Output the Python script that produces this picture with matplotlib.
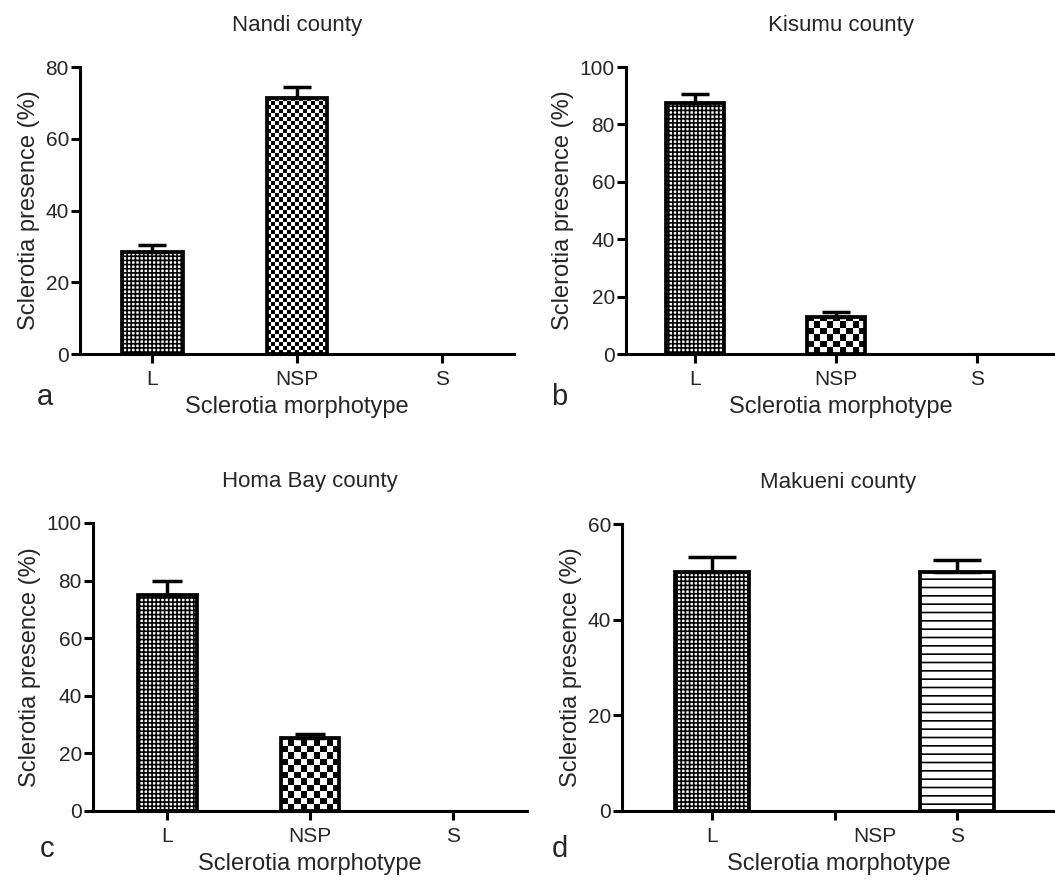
import numpy as np
import matplotlib
matplotlib.use("Agg")
import matplotlib.pyplot as plt
import matplotlib.transforms as mtransforms

# ---------------- data ----------------
categories = ["L", "NSP", "S"]
titles = ["Nandi county", "Kisumu county", "Homa Bay county", "Makueni county"]
panel_letters = ["a", "b", "c", "d"]

nandi_values = [28.5, 71.4, 0.0]
nandi_errors = [2.0, 2.9, 0.0]
kisumu_values = [87.5, 12.8, 0.0]
kisumu_errors = [3.0, 1.7, 0.0]
homabay_values = [75.0, 25.2, 0.0]
homabay_errors = [4.7, 1.7, 0.0]
makueni_values = [50.0, 0.0, 50.0]
makueni_errors = [3.1, 0.0, 2.4]

y_max = [80, 100, 100, 60]
y_ticks = [[0, 20, 40, 60, 80],
           [0, 20, 40, 60, 80, 100],
           [0, 20, 40, 60, 80, 100],
           [0, 20, 40, 60]]

values = [nandi_values, kisumu_values, homabay_values, makueni_values]
errors = [nandi_errors, kisumu_errors, homabay_errors, makueni_errors]

# ---------------- style ----------------
plt.rcParams['font.family'] = ['Liberation Sans', 'DejaVu Sans']
plt.rcParams['hatch.linewidth'] = 1.2
TXT = '#262626'

W, H = 1055, 881
fig = plt.figure(figsize=(W / 100, H / 100), dpi=100)

# axes boxes in pixels: left, right, top, bottom
boxes = [(80, 514, 67, 354), (626, 1055, 67, 354),
         (93, 527, 523, 811), (622, 1055, 524, 811)]
xlims = [(-0.5, 2.5), (-0.49, 2.55), (-0.52, 2.52), (-0.735, 2.8)]
bar_widths = [0.42, 0.41, 0.41, 0.6]
capsizes = [10, 10, 11, 17]
checker_px = [4.0, 6.5, 6.5, 6.0]
letter_pos = [(45, 405), (559, 405), (47, 857), (560, 857)]

hatches = {"L": "++++", "S": "--"}

for i in range(4):
    l, r, t, b = boxes[i]
    ax = fig.add_axes([l / W, 1 - b / H, (r - l) / W, (b - t) / H])
    x = np.arange(len(categories))
    vals = np.array(values[i])
    errs = np.array(errors[i])
    ax.set_xlim(*xlims[i])
    ax.set_ylim(0, y_max[i])

    for j, cat in enumerate(categories):
        if vals[j] <= 0:
            continue
        if cat == "NSP":
            bar = ax.bar(x[j], vals[j], width=bar_widths[i], facecolor='none',
                         edgecolor='black', linewidth=2.7, zorder=3)[0]
            # checkerboard texture clipped to bar
            x0, w, h = bar.get_x(), bar.get_width(), bar.get_height()
            p0 = ax.transData.transform((x0, 0))
            p1 = ax.transData.transform((x0 + w, h))
            wpx, hpx = p1[0] - p0[0], p1[1] - p0[1]
            c = checker_px[i]
            nx, ny = int(np.ceil(wpx / c)), int(np.ceil(hpx / c))
            cx, cy = w / wpx * c, h / hpx * c
            board = (np.indices((ny, nx)).sum(axis=0) % 2).astype(float)
            im = ax.imshow(board, cmap='gray_r', vmin=0, vmax=1,
                           extent=(x0, x0 + nx * cx, 0, ny * cy), origin='lower',
                           aspect='auto', interpolation='nearest', zorder=2)
            im.set_clip_path(bar)
        else:
            ax.bar(x[j], vals[j], width=bar_widths[i], facecolor='white',
                   edgecolor='black', linewidth=2.7, hatch=hatches[cat], zorder=3)

    nz = vals > 0
    ax.errorbar(x[nz], vals[nz], yerr=[np.zeros(nz.sum()), errs[nz]], fmt='none',
                ecolor='black', elinewidth=2.5, capsize=capsizes[i], capthick=2.5,
                zorder=4)

    ax.set_xlim(*xlims[i])
    ax.set_ylim(0, y_max[i])
    ax.set_yticks(y_ticks[i])
    ax.set_xticks(x)
    ax.set_xticklabels(categories)

    for s in ['top', 'right']:
        ax.spines[s].set_visible(False)
    for s in ['left', 'bottom']:
        ax.spines[s].set_linewidth(2.2)
        ax.spines[s].set_zorder(5)
    ax.tick_params(axis='both', direction='out', length=6.5, width=2.2,
                   labelsize=15, colors='black', labelcolor=TXT)
    ax.tick_params(axis='y', pad=1.5)
    ax.tick_params(axis='x', pad=5)

    ax.set_ylabel("Sclerotia presence (%)", fontsize=17, color=TXT, labelpad=4)
    ax.set_xlabel("Sclerotia morphotype", fontsize=17, color=TXT, labelpad=5)
    ax.set_title(titles[i], fontsize=16, color=TXT, pad=26)

    if i == 3:
        lab = ax.get_xticklabels()[1]
        lab.set_transform(lab.get_transform() +
                          mtransforms.ScaledTranslation(0.40, 0, fig.dpi_scale_trans))

    lx, ly = letter_pos[i]
    fig.text(lx / W, 1 - ly / H, panel_letters[i], fontsize=21, color=TXT,
             ha='center', va='baseline')

fig.savefig("out.png", dpi=100)
